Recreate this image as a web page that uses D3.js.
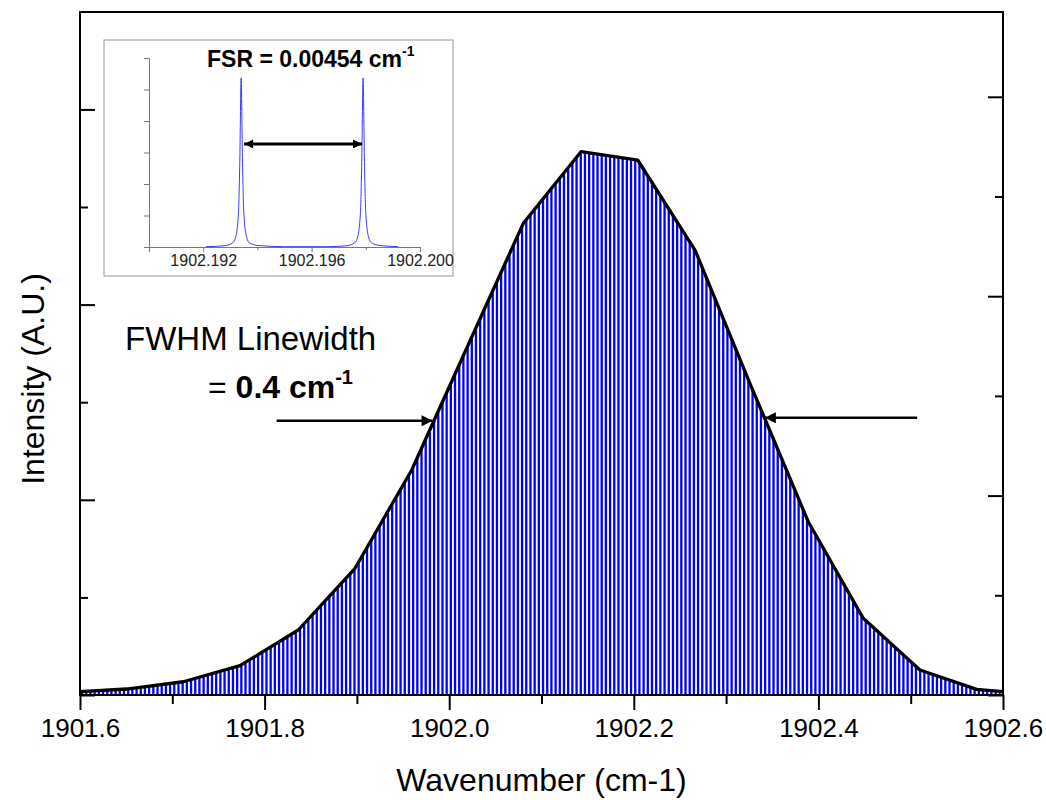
<!DOCTYPE html>
<html>
<head>
<meta charset="utf-8">
<script src="https://cdnjs.cloudflare.com/ajax/libs/d3/7.8.5/d3.min.js"></script>
<style>
  body { margin: 0; background: #fff; }
  svg { display: block; font-family: "Liberation Sans", Arial, sans-serif; }
</style>
</head>
<body>
<div id="chart"></div>
<script>
// Envelope of the mode comb (black outline)
const wavenumber = [1901.600, 1901.6506, 1901.712, 1901.7733, 1901.8365, 1901.898, 1901.9594, 1902.0198,
  1902.0803, 1902.1428, 1902.2042, 1902.2663, 1902.327, 1902.389, 1902.4486, 1902.510, 1902.5715, 1902.600];
const intensity = [0.033, 0.06, 0.133, 0.294, 0.652, 1.271, 2.257, 3.495,
  4.731, 5.449, 5.366, 4.463, 3.099, 1.738, 0.769, 0.251, 0.057, 0.033];

// free spectral range = spacing of the cavity modes (the blue comb)
const fsr = 0.00454;

const xTickValues = [1901.6, 1901.8, 1902.0, 1902.2, 1902.4, 1902.6];
const yTickValues = [0, 1, 2, 3, 4, 5, 6];

// FWHM arrows: [tail, tip] in data units
const fwhmLeft = { x0: 1901.813, x1: 1901.982, y: 2.75 };
const fwhmRight = { x0: 1902.507, x1: 1902.342, y: 2.78 };

// Inset: two transmission peaks of the etalon
const insetX = [1902.1921, 1902.1928, 1902.1931, 1902.1932, 1902.1933, 1902.19335, 1902.1934,
  1902.19345, 1902.1935, 1902.1936, 1902.1937, 1902.1940, 1902.1950,
  1902.1966, 1902.1973, 1902.1976, 1902.1977, 1902.1978, 1902.19785, 1902.1979,
  1902.19795, 1902.1980, 1902.1981, 1902.1982, 1902.1985, 1902.1992];
const insetY = [0.01, 0.04, 0.14, 0.32, 1.07, 2.68, 5.37,
  2.68, 1.07, 0.32, 0.14, 0.05, 0.01,
  0.01, 0.04, 0.14, 0.32, 1.07, 2.68, 5.37,
  2.68, 1.07, 0.32, 0.14, 0.05, 0.01];
const insetTickLabels = [1902.192, 1902.196, 1902.200];
const insetMinorTicks = [1902.190, 1902.194, 1902.198];
const insetYTicks = [0, 1, 2, 3, 4, 5, 6];
const fsrArrow = { x0: 1902.19351, x1: 1902.19786, y: 3.27 };

const W = 1046, H = 800;
const margin = { top: 12, right: 43, bottom: 105, left: 80 };
const width = W - margin.left - margin.right;
const height = H - margin.top - margin.bottom;

const svg = d3.select("#chart").append("svg")
  .attr("width", W).attr("height", H);

const defs = svg.append("defs");
defs.append("marker")
  .attr("id", "arrowHead")
  .attr("viewBox", "0 0 10 10")
  .attr("refX", 10).attr("refY", 5)
  .attr("markerUnits", "userSpaceOnUse")
  .attr("markerWidth", 18).attr("markerHeight", 11)
  .attr("orient", "auto-start-reverse")
  .append("path").attr("d", "M0,0 L10,5 L0,10 Z").attr("fill", "#000");
defs.append("marker")
  .attr("id", "smallHead")
  .attr("viewBox", "0 0 10 10")
  .attr("refX", 10).attr("refY", 5)
  .attr("markerUnits", "userSpaceOnUse")
  .attr("markerWidth", 14).attr("markerHeight", 9)
  .attr("orient", "auto-start-reverse")
  .append("path").attr("d", "M0,0 L10,5 L0,10 Z").attr("fill", "#000");

const g = svg.append("g").attr("transform", `translate(${margin.left},${margin.top})`);

// Scales (the left axis in the original is scaled slightly differently from the right one)
const x = d3.scaleLinear().domain([1901.6, 1902.6]).range([0, width]);
const y = d3.scaleLinear().domain([0, height / 99.7]).range([height, 0]);
const yLeft = d3.scaleLinear().domain([0, height / 97.6]).range([height, 0]);

const pts = wavenumber.map((w, i) => [w, intensity[i]]);

// clip path = area under the envelope
const area = d3.area().x(d => x(d[0])).y0(y(0)).y1(d => y(d[1]));
defs.append("clipPath").attr("id", "under")
  .append("path").attr("d", area(pts));

// comb of modes, spaced by the FSR, clipped by the envelope
const modes = d3.range(1901.6 + fsr / 2, 1902.6, fsr);
g.append("g").attr("clip-path", "url(#under)")
  .selectAll("line").data(modes).join("line")
  .attr("x1", d => x(d)).attr("x2", d => x(d))
  .attr("y1", y(0)).attr("y2", y(6))
  .attr("stroke", "#0000ff").attr("stroke-width", 2.3);

// envelope
g.append("path")
  .attr("d", d3.line().x(d => x(d[0])).y(d => y(d[1]))(pts))
  .attr("fill", "none").attr("stroke", "#000").attr("stroke-width", 3.3)
  .attr("stroke-linejoin", "round");

// Axes
const xMinor = d3.range(1901.7, 1902.6, 0.2);
const xAxis = d3.axisBottom(x).tickValues(xTickValues).tickSize(15).tickPadding(9)
  .tickFormat(d3.format(".1f"));
const gx = g.append("g").attr("transform", `translate(0,${height})`).call(xAxis);
gx.selectAll("text").attr("font-size", 26).attr("fill", "#000")
  .attr("font-family", "'Liberation Sans', Arial, sans-serif");
gx.selectAll("line").attr("stroke-width", 2);
g.append("g").attr("transform", `translate(0,${height})`)
  .call(d3.axisBottom(x).tickValues(xMinor).tickSize(9).tickFormat(""))
  .call(s => s.select(".domain").remove())
  .selectAll("line").attr("stroke-width", 2);

// y ticks, inward on both sides, no labels
const yMajor = yTickValues.filter(v => v % 2 === 0);
const yMinor = yTickValues.filter(v => v % 2 === 1);
[[d3.axisRight, 0, yLeft], [d3.axisLeft, width, y]].forEach(([ax, off, sc]) => {
  g.append("g").attr("transform", `translate(${off},0)`)
    .call(ax(sc).tickValues(yMajor).tickSize(15).tickFormat(""))
    .call(s => s.select(".domain").remove())
    .selectAll("line").attr("stroke-width", 2);
  g.append("g").attr("transform", `translate(${off},0)`)
    .call(ax(sc).tickValues(yMinor).tickSize(8).tickFormat(""))
    .call(s => s.select(".domain").remove())
    .selectAll("line").attr("stroke-width", 2);
});

// frame
g.append("rect").attr("width", width).attr("height", height)
  .attr("fill", "none").attr("stroke", "#000").attr("stroke-width", 2);

// Axis titles
svg.append("text")
  .attr("x", margin.left + width / 2).attr("y", 791)
  .attr("text-anchor", "middle").attr("font-size", 32)
  .text("Wavenumber (cm-1)");
svg.append("text")
  .attr("transform", "translate(44,379) rotate(-90)")
  .attr("text-anchor", "middle").attr("font-size", 32)
  .text("Intensity (A.U.)");

// FWHM annotation
svg.append("text").attr("x", 125).attr("y", 350).attr("font-size", 33)
  .text("FWHM Linewidth");
const fw = svg.append("text").attr("x", 208).attr("y", 398).attr("font-size", 32);
fw.append("tspan").text("= ");
fw.append("tspan").attr("font-weight", "bold").text("0.4 cm");
fw.append("tspan").attr("font-weight", "bold").attr("font-size", 20).attr("dy", -14).text("-1");

[fwhmLeft, fwhmRight].forEach(a => {
  g.append("line")
    .attr("x1", x(a.x0)).attr("x2", x(a.x1))
    .attr("y1", y(a.y)).attr("y2", y(a.y))
    .attr("stroke", "#000").attr("stroke-width", 2.5)
    .attr("marker-end", "url(#arrowHead)");
});

// Inset
const inset = svg.append("g");
inset.append("rect").attr("x", 104).attr("y", 40).attr("width", 349).attr("height", 236)
  .attr("fill", "#fff").attr("stroke", "#a8a8a8").attr("stroke-width", 1.2);

const ix = d3.scaleLinear().domain([1902.190, 1902.200]).range([149, 420]);
const iy = d3.scaleLinear().domain([0, 6]).range([247, 58]);

inset.append("g").attr("transform", "translate(0,247)")
  .call(d3.axisBottom(ix).tickValues(insetTickLabels).tickSize(5).tickPadding(3)
    .tickFormat(d3.format(".3f")))
  .call(s => s.select(".domain").attr("stroke", "#777"))
  .call(s => s.selectAll("line").attr("stroke", "#777"))
  .selectAll("text").attr("font-size", 16).attr("fill", "#222")
  .attr("font-family", "'Liberation Sans', Arial, sans-serif");
inset.append("g").attr("transform", "translate(0,247)")
  .call(d3.axisBottom(ix).tickValues(insetMinorTicks).tickSize(3).tickFormat(""))
  .call(s => s.select(".domain").remove())
  .selectAll("line").attr("stroke", "#777");
inset.append("g").attr("transform", "translate(149,0)")
  .call(d3.axisLeft(iy).tickValues(insetYTicks).tickSize(5).tickFormat(""))
  .call(s => s.select(".domain").attr("stroke", "#777"))
  .selectAll("line").attr("stroke", "#777");

inset.append("path")
  .attr("d", d3.line().x(d => ix(d)).y((d, i) => iy(insetY[i])).curve(d3.curveMonotoneX)(insetX))
  .attr("fill", "none").attr("stroke", "#3a3aff").attr("stroke-width", 1);

inset.append("line")
  .attr("x1", ix(fsrArrow.x0)).attr("x2", ix(fsrArrow.x1))
  .attr("y1", iy(fsrArrow.y)).attr("y2", iy(fsrArrow.y))
  .attr("stroke", "#000").attr("stroke-width", 3)
  .attr("marker-start", "url(#smallHead)").attr("marker-end", "url(#smallHead)");

const ft = inset.append("text").attr("x", 207).attr("y", 67)
  .attr("font-size", 23).attr("font-weight", "bold");
ft.append("tspan").text("FSR = 0.00454 cm");
ft.append("tspan").attr("font-size", 14).attr("dy", -11).text("-1");
</script>
</body>
</html>
